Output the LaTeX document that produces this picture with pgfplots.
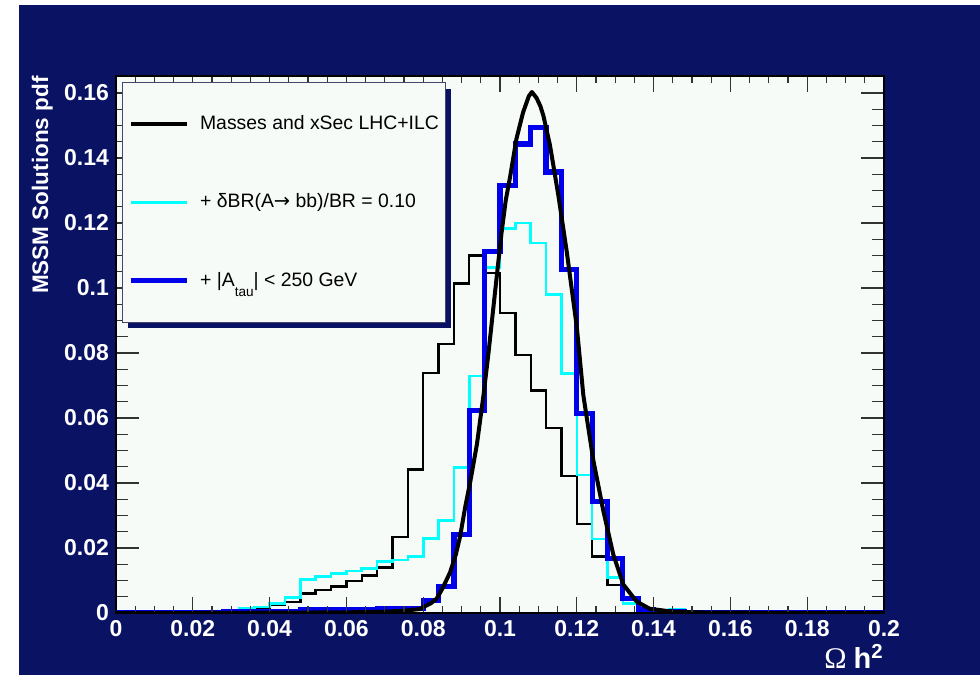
\documentclass[border=0pt]{standalone}
\usepackage{fontspec}
\setmainfont{Liberation Sans}
\newfontfamily\seriffont{Liberation Serif}
\newfontfamily\arrowfont{DejaVu Sans}
\usepackage{pgfplots}
\pgfplotsset{compat=1.18}
\usetikzlibrary{shadows}
\definecolor{navy}{RGB}{10,18,100}
\definecolor{plotbg}{RGB}{246,251,248}
\definecolor{hblue}{RGB}{0,0,235}
\definecolor{hcyan}{RGB}{0,255,255}
\makeatletter
\tikzset{nopreaction/.code={\let\tikz@preactions\pgfutil@empty}}
\makeatother

\begin{document}
\begin{tikzpicture}
\fill[white] (0,0) rectangle (490pt,337.5pt);
\fill[navy] (9.5pt,0) rectangle (490pt,335pt);
\useasboundingbox (0,0) rectangle (490pt,337.5pt);

\pgfplotsset{
 base/.style={
  scale only axis, width=384pt, height=268.5pt,
  at={(58pt,31pt)}, anchor=south west,
  xmin=0, xmax=0.2, ymin=0, ymax=0.16523,
  tick align=inside,
  axis line style={black, line width=1.2pt},
  tick style={black!80, line width=0.6pt},
  ticklabel style={font=\fontsize{11.5}{12}\selectfont\bfseries, text=white},
 }
}

% background and y ticks
\begin{axis}[base,
  axis background/.style={fill=plotbg},
  xtick=\empty,
  ytick={0,0.02,0.04,0.06,0.08,0.1,0.12,0.14,0.16},
  yticklabels={0,0.02,0.04,0.06,0.08,0.1,0.12,0.14,0.16},
  minor y tick num=3,
  major tick length=11.5pt, minor tick length=6pt,
  ytick pos=both, yticklabel pos=left,
  ylabel={MSSM Solutions pdf},
  ylabel style={at={(axis description cs:-0.096,1)}, anchor=east, inner sep=0pt,
    font=\fontsize{11.25}{12}\selectfont\bfseries, text=white},
]
\end{axis}

% data, x ticks, legend
\begin{axis}[base,
  axis on top,
  xtick={0,0.02,0.04,0.06,0.08,0.1,0.12,0.14,0.16,0.18,0.2},
  xticklabels={0,0.02,0.04,0.06,0.08,0.1,0.12,0.14,0.16,0.18,0.2},
  minor x tick num=3,
  major tick length=7.8pt, minor tick length=3.7pt,
  xtick pos=both, xticklabel pos=left,
  ytick=\empty,
  xlabel={{\seriffont\fontsize{15}{15}\selectfont Ω}\hspace{3.5pt}{\fontsize{14.5}{15}\selectfont\bfseries h\textsuperscript{2}}},
  xlabel style={at={(axis description cs:1,-0.104)}, anchor=base east, inner sep=0pt, text=white},
  legend cell align=left,
  legend image code/.code={\draw[nopreaction,#1] (0pt,0pt) -- (28pt,0pt);},
  legend style={
    at={(axis description cs:0.0078,0.9888)}, anchor=north west,
    fill=plotbg, draw={rgb,255:red,70;green,70;blue,110}, line width=0.5pt,
    drop shadow={shadow xshift=3pt, shadow yshift=-3pt, fill=navy, opacity=1},
    inner xsep=3.2pt, inner ysep=1pt,
    row sep=0pt, column sep=5pt,
    font=\fontsize{9.7}{11}\selectfont,
    nodes={inner sep=0pt, minimum height=39.25pt},
  },
]
% black histogram
\addplot[const plot, black, line width=1.2pt, legend image post style={line width=1.8pt}] coordinates {
(0,0) (0.020,0.0002) (0.024,0.0004) (0.028,0.0006) (0.032,0.0010) (0.036,0.0015)
(0.040,0.0026) (0.044,0.0034) (0.048,0.0060) (0.052,0.0070) (0.056,0.0081)
(0.060,0.0098) (0.064,0.0115) (0.068,0.0140) (0.072,0.0233) (0.076,0.0442)
(0.080,0.0739) (0.084,0.0828) (0.088,0.1014) (0.092,0.1100) (0.096,0.1047)
(0.100,0.0923) (0.104,0.0794) (0.108,0.0685) (0.112,0.0570) (0.116,0.0422)
(0.120,0.0274) (0.124,0.0174) (0.128,0.0086) (0.132,0.0029) (0.136,0.0005)
(0.140,0.0002) (0.144,0) (0.2,0)};
\addlegendentry{Masses and xSec LHC+ILC}
% cyan histogram
\addplot[const plot, hcyan, line width=1.3pt, legend image post style={line width=1.6pt}] coordinates {
(0,0) (0.020,0.0002) (0.024,0.0004) (0.028,0.0008) (0.032,0.0013) (0.036,0.0019)
(0.040,0.0029) (0.044,0.0047) (0.048,0.0104) (0.052,0.0112) (0.056,0.0122)
(0.060,0.0129) (0.064,0.0137) (0.068,0.0158) (0.072,0.0163) (0.076,0.0174)
(0.080,0.0230) (0.084,0.0284) (0.088,0.0447) (0.092,0.0729) (0.096,0.1063)
(0.100,0.1183) (0.104,0.1200) (0.108,0.1138) (0.112,0.0980) (0.116,0.0737)
(0.120,0.0425) (0.124,0.0228) (0.128,0.0109) (0.132,0.0030) (0.136,0.0008)
(0.140,0.0004) (0.144,0.0010) (0.148,0.0002) (0.152,0) (0.2,0)};
\addlegendentry{+ δBR(A{\arrowfont →} bb)/BR = 0.10}
% blue histogram
\addplot[const plot, hblue, line width=2.6pt] coordinates {
(0,0) (0.016,0.0001) (0.024,0.0002) (0.028,0.0004) (0.048,0.0009) (0.068,0.0015)
(0.080,0.0039) (0.084,0.0081) (0.088,0.0242) (0.092,0.0623) (0.096,0.1113)
(0.100,0.1316) (0.104,0.1443) (0.108,0.1494) (0.112,0.1357) (0.116,0.1057)
(0.120,0.0613) (0.124,0.0344) (0.128,0.0167) (0.132,0.0044) (0.136,0.0012)
(0.140,0.0005) (0.144,0.0003) (0.148,0.0001) (0.152,0) (0.2,0)};
\addlegendentry{+ |A\raisebox{-0.55em}{\fontsize{6.8}{7}\selectfont tau}| < 250 GeV}
% smooth fit curve
\addplot[black, line width=2pt, line join=round, forget plot] coordinates {
(0,0) (0.020,0) (0.040,0.0001) (0.060,0.0002) (0.070,0.0004) (0.075,0.0007)
(0.079,0.0012) (0.082,0.0030) (0.0835,0.0044) (0.085,0.0075) (0.087,0.0125)
(0.0885,0.0180) (0.0896,0.0235) (0.091,0.0330) (0.0922,0.0400) (0.094,0.0520)
(0.0957,0.0670) (0.0970,0.0800) (0.0980,0.0910) (0.0991,0.1030) (0.1004,0.1170)
(0.1015,0.1270) (0.1026,0.1340) (0.1043,0.1460) (0.1060,0.1540) (0.1075,0.1590)
(0.1083,0.1603) (0.1095,0.1585) (0.1105,0.1560) (0.1113,0.1530) (0.1130,0.1440)
(0.1152,0.1285) (0.1174,0.1110) (0.1200,0.0880) (0.1217,0.0670) (0.1243,0.0470)
(0.1269,0.0315) (0.1295,0.0180) (0.1321,0.0088) (0.1356,0.0035) (0.1390,0.0013)
(0.1450,0.0004) (0.1550,0.0001) (0.2,0)};
\end{axis}
\end{tikzpicture}
\end{document}
